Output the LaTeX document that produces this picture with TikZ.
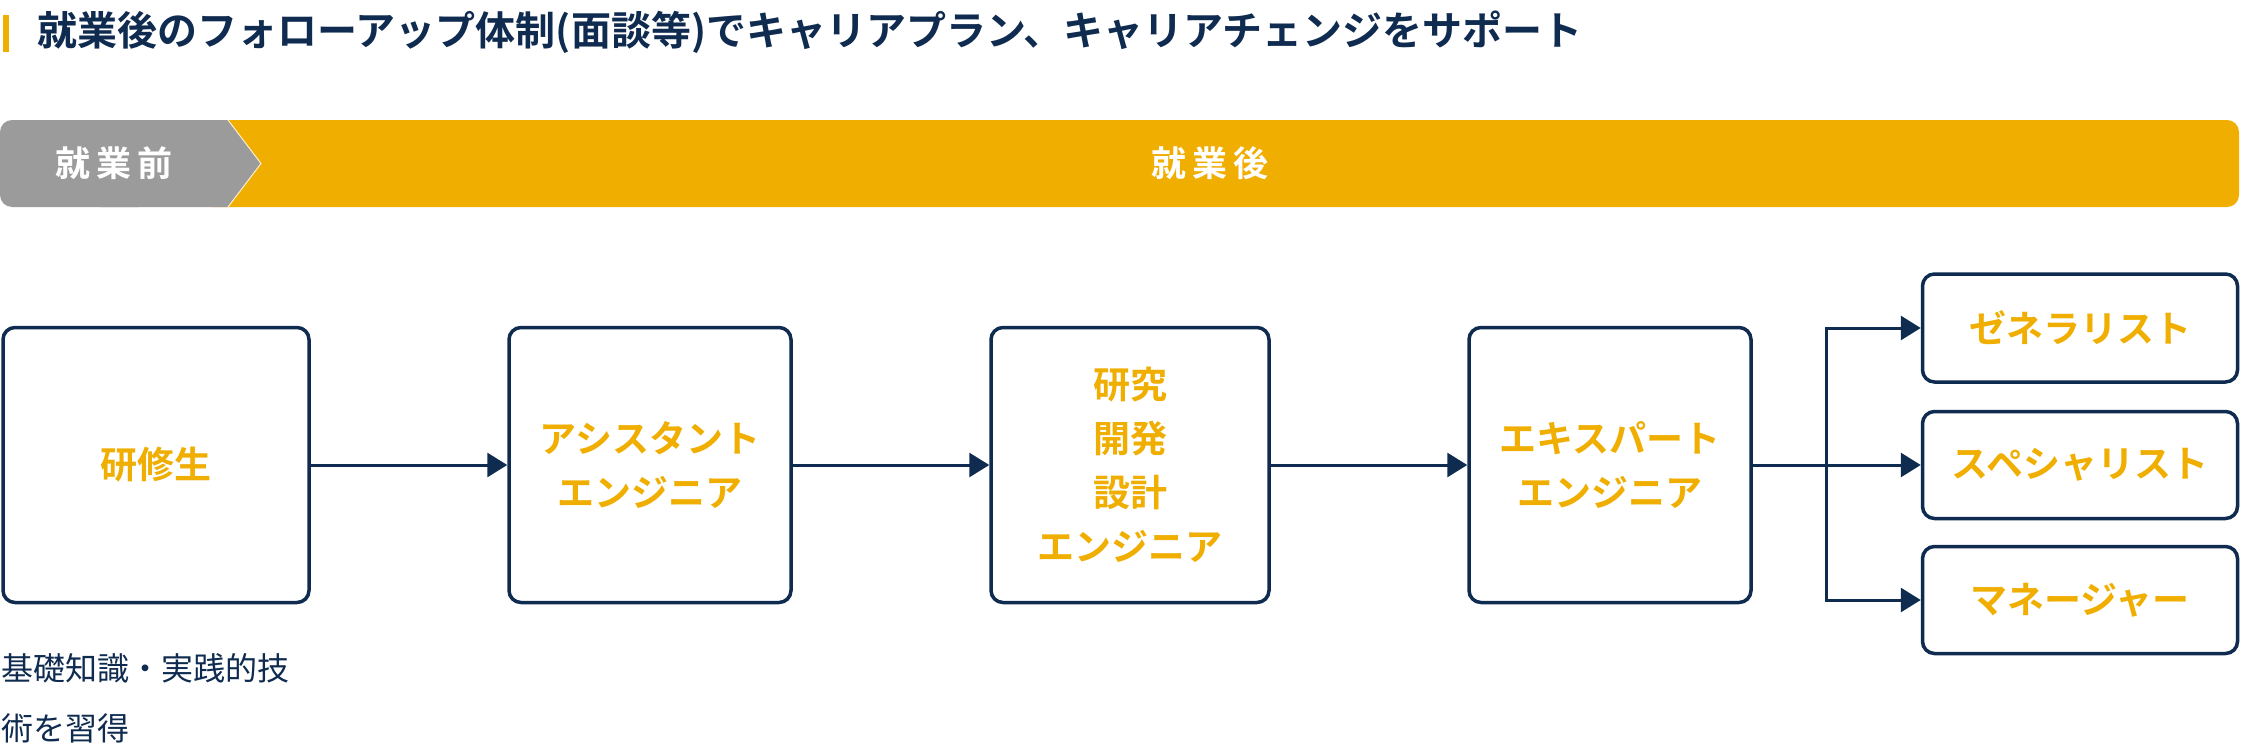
\documentclass[tikz,border=0pt]{standalone}
\usepackage{fontspec}
\setmainfont{Noto Sans CJK JP}
\newfontfamily\jpb{Noto Sans CJK JP Bold}
\usetikzlibrary{arrows.meta}
\definecolor{yel}{HTML}{F0AE00}
\definecolor{gr}{HTML}{9B9B9B}
\definecolor{nv}{HTML}{0F2B50}
\begin{document}
\begin{tikzpicture}[x=1pt,y=-1pt,
 box/.style={draw=nv,line width=3.5pt,rounded corners=12pt,fill=white,text=yel,font=\jpb\fontsize{37}{54}\selectfont,align=center,inner sep=0pt},
 arr/.style={draw=nv,line width=3pt,-{Triangle[length=20pt,width=24pt]}}]
\useasboundingbox (0,0) rectangle (2241,752);
\fill[yel] (3,15) rectangle (9,52);
\node[anchor=west,text=nv,font=\jpb\fontsize{40}{46}\selectfont] (title) at (34,32) {就業後のフォローアップ体制(面談等)でキャリアプラン、キャリアチェンジをサポート};
\fill[yel,rounded corners=12pt] (200,120) -- (2239,120) -- (2239,207) -- (200,207) -- cycle;
\fill[yel] (200,120) rectangle (240,207);
\fill[gr,rounded corners=12pt] (0,120) -- (150,120) -- (150,207) -- (0,207) -- cycle;
\fill[gr] (100,120) -- (228,120) -- (261,163.5) -- (228,207) -- (100,207) -- cycle;
\draw[white!80!yel,line width=1pt] (228,120) -- (261,163.5) -- (228,207);
\node[text=white,font=\jpb\fontsize{35}{40}\selectfont] (pre) at (114,163) {就\,業\,前};
\node[text=white,font=\jpb\fontsize{35}{40}\selectfont] (post) at (1210,163) {就\,業\,後};
\node[box,minimum width=306pt,minimum height=275pt] (a) at (156,465) {研修生};
\node[box,minimum width=282pt,minimum height=275pt] (b) at (650,465) {アシスタント\\エンジニア};
\node[box,minimum width=278pt,minimum height=275pt] (c) at (1130,465) {研究\\開発\\設計\\エンジニア};
\node[box,minimum width=282pt,minimum height=275pt] (d) at (1610,465) {エキスパート\\エンジニア};
\node[box,minimum width=315pt,minimum height=108pt] (e) at (2080,328) {ゼネラリスト};
\node[box,minimum width=315pt,minimum height=107pt] (f) at (2080,465) {スペシャリスト};
\node[box,minimum width=315pt,minimum height=107pt] (g) at (2080,600) {マネージャー};
\draw[arr] (a) -- (b);
\draw[arr] (b) -- (c);
\draw[arr] (c) -- (d);
\coordinate (j) at (1826,465);
\draw[arr] (d.east) -- (f.west);
\draw[arr] (j) |- (e.west);
\draw[arr] (j) |- (g.west);
\node[anchor=west,text=nv,font=\fontsize{32}{60}\selectfont,align=left] (note) at (-2,698) {基礎知識・実践的技\\術を習得};
\end{tikzpicture}
\end{document}
